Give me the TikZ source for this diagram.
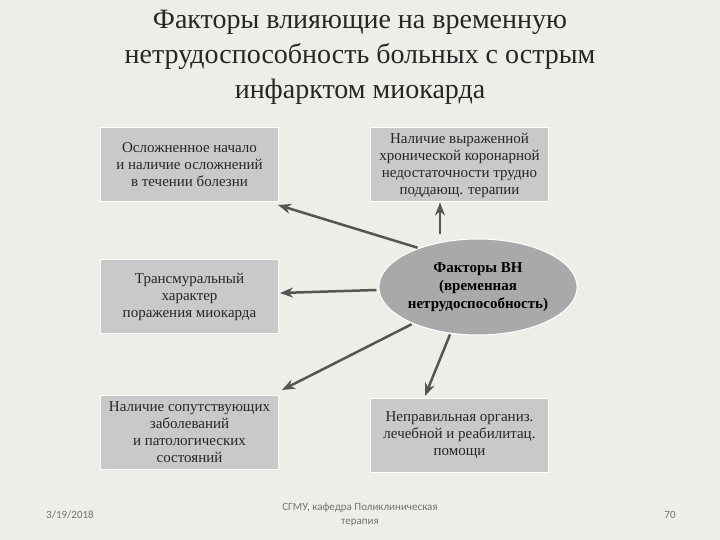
\documentclass[tikz,border=0pt]{standalone}
\usepackage{fontspec}
\setmainfont{Liberation Serif}
\newfontfamily\foot{Carlito}
\usetikzlibrary{shapes.geometric,arrows.meta}
\definecolor{bg}{HTML}{EFEDE8}
\definecolor{boxc}{HTML}{C9C9C9}
\definecolor{ellc}{HTML}{A9A9A9}
\definecolor{arr}{HTML}{555555}
\begin{document}
\begin{tikzpicture}[x=1pt,y=-1pt,
  box/.style={fill=boxc,draw=white,line width=1pt,minimum width=178pt,minimum height=74pt,inner sep=2pt,align=center,font=\fontsize{15}{17}\selectfont,text=black!85},
  arrw/.style={-{Stealth[length=13pt,width=10pt]},draw=arr,line width=2.5pt}]
\fill[bg] (0,0) rectangle (720,540);
\useasboundingbox (0,0) rectangle (720,540);
\node[align=center,font=\fontsize{28}{35}\selectfont,text=black!85] (title) at (360,57) {Факторы влияющие на временную\\нетрудоспособность больных с острым\\инфарктом миокарда};
\node[box] (b1) at (189.5,165) {Осложненное начало\\и наличие осложнений\\в течении болезни};
\node[box] (b2) at (459.5,165) {Наличие выраженной\\хронической коронарной\\недостаточности трудно\\поддающ. терапии};
\node[box] (b3) at (189.5,296.5) {Трансмуральный\\характер\\поражения миокарда};
\node[box] (b4) at (189.5,432.5) {Наличие сопутствующих\\заболеваний\\и патологических\\состояний};
\node[box] (b5) at (459.5,435) {Неправильная организ.\\лечебной и реабилитац.\\помощи};
\node[ellipse,fill=ellc,draw=white,line width=1pt,minimum width=182pt,minimum height=96pt,inner sep=0pt,align=center,font=\bfseries\fontsize{15}{18}\selectfont] (e) at (478,287) {Факторы ВН\\(временная\\нетрудоспособность)};
\coordinate (t1) at (278,205);
\coordinate (t3) at (280,293);
\coordinate (t4) at (282,390);
\coordinate (t5) at (425,396);
\draw[arrw] (e.north west) ++(10,-5) -- (t1);
\draw[arrw] (e.north) ++(-38,-5) -- (b2.south -| 440,0);
\draw[arrw] (e.west) ++(-2,3) -- (t3);
\draw[arrw] (e.south west) ++(4,3) -- (t4);
\draw[arrw] (e.south) ++(-28,-1) -- (t5);
\node[font=\foot\fontsize{11}{13}\selectfont,text=black!55] (d) at (70,515) {3/19/2018};
\node[align=center,font=\foot\fontsize{11}{14}\selectfont,text=black!55] (f) at (360,515) {СГМУ, кафедра Поликлиническая\\терапия};
\node[font=\foot\fontsize{11}{13}\selectfont,text=black!55] (n) at (670,515) {70};
\end{tikzpicture}
\end{document}
